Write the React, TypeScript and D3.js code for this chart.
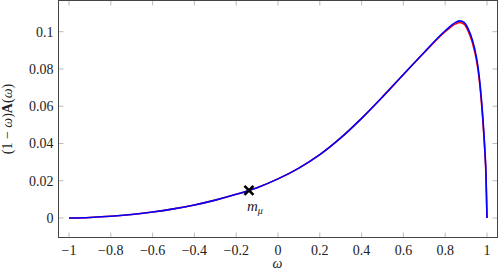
import React from 'react'
import * as d3 from 'd3'

// omega samples and (1-w)A(w) values
const omega = [-1, -0.9, -0.8, -0.7, -0.6, -0.5, -0.4, -0.3, -0.2, -0.1, 0, 0.1, 0.2, 0.3, 0.4, 0.5, 0.6, 0.7, 0.8, 0.85, 0.87, 0.89, 0.91, 0.93, 0.95, 0.96, 0.97, 0.98, 0.99, 0.995, 1]
const blueVals = [0, 0.0003, 0.0009, 0.0019, 0.0032, 0.0049, 0.007, 0.0096, 0.0127, 0.0163, 0.021, 0.0268, 0.034, 0.043, 0.0535, 0.065, 0.077, 0.089, 0.1005, 0.105, 0.1058, 0.105, 0.1015, 0.0955, 0.086, 0.0785, 0.068, 0.054, 0.036, 0.024, 0]
const redVals = [0, 0.0003, 0.0009, 0.0019, 0.0032, 0.0049, 0.007, 0.0096, 0.0127, 0.0163, 0.021, 0.0268, 0.034, 0.043, 0.0535, 0.065, 0.077, 0.0888, 0.1, 0.1042, 0.1049, 0.104, 0.1003, 0.0942, 0.0845, 0.077, 0.0665, 0.0525, 0.035, 0.0235, 0]

const xTicks = [-1, -0.8, -0.6, -0.4, -0.2, 0, 0.2, 0.4, 0.6, 0.8, 1]
const yTicks = [0, 0.02, 0.04, 0.06, 0.08, 0.1]

const marker = { w: -0.139, v: 0.0148 }

export default function App() {
  let left = 58.5, right = 497.5, top = 0.5, bottom = 237.5

  var x = d3.scaleLinear().domain([-1, 1]).range([69, 487])
  var y = d3.scaleLinear().domain([0, 0.1]).range([218, 31.7])

  const line = d3.line<number>()
    .x((d, i) => x(omega[i]))
    .y(d => y(d))
    .curve(d3.curveMonotoneX)

  const fmt = (t: number) => (t < 0 ? '\u2212' + Math.abs(t) : String(t))
  const font = "'Liberation Serif', 'Times New Roman', serif"

  const mx = x(marker.w), my = y(marker.v)

  return (
    <svg width={498} height={271} style={{ position: 'absolute', left: 0, top: 0, fontFamily: font }}>
      <rect x={0} y={0} width={498} height={271} fill="#fff" />
      {/* ticks, pgfplots style: inside on all four sides */}
      {xTicks.map(t => (
        <g key={'x' + t}>
          <line x1={x(t)} x2={x(t)} y1={bottom} y2={bottom - 5} stroke="#aaa" strokeWidth={0.8} />
          <line x1={x(t)} x2={x(t)} y1={top} y2={top + 5} stroke="#aaa" strokeWidth={0.8} />
          <text x={x(t)} y={bottom + 17} fontSize={14} textAnchor="middle" fill="#222" style={{ fontFamily: font }}>{fmt(t)}</text>
        </g>
      ))}
      {yTicks.map(t => (
        <g key={'y' + t}>
          <line x1={left} x2={left + 5} y1={y(t)} y2={y(t)} stroke="#aaa" strokeWidth={0.8} />
          <line x1={right} x2={right - 5} y1={y(t)} y2={y(t)} stroke="#aaa" strokeWidth={0.8} />
          <text x={left - 5} y={y(t) + 5} fontSize={14} textAnchor="end" fill="#222" style={{ fontFamily: font }}>{fmt(t)}</text>
        </g>
      ))}
      <path d={line(redVals) || ''} fill="none" stroke="#ff0000" strokeWidth={1.6} />
      <path d={line(blueVals) || ''} fill="none" stroke="#0000ff" strokeWidth={1.6} />
      {/* marker */}
      <g stroke="#000" strokeWidth={2.6}>
        <line x1={mx - 4.5} x2={mx + 4.5} y1={my - 4.5} y2={my + 4.5} />
        <line x1={mx - 4.5} x2={mx + 4.5} y1={my + 4.5} y2={my - 4.5} />
      </g>
      <text x={mx - 2} y={my + 21} fontSize={15} fontStyle="italic" fill="#222" style={{ fontFamily: font }}>
        m<tspan fontSize={10} dy={3}>μ</tspan>
      </text>
      <rect x={left} y={top} width={right - left} height={bottom - top} fill="none" stroke="#444" strokeWidth={1} />
      {/* axis labels */}
      <text x={(left + right) / 2 - 0.5} y={268} fontSize={14} fontStyle="italic" textAnchor="middle" fill="#222" style={{ fontFamily: font }}>ω</text>
      <text transform={`translate(12, ${(top + bottom) / 2}) rotate(-90)`} fontSize={14} textAnchor="middle" fill="#222" style={{ fontFamily: font }}>
        (1 − <tspan fontStyle="italic">ω</tspan>)<tspan fontWeight="bold">A</tspan>(<tspan fontStyle="italic">ω</tspan>)
      </text>
    </svg>
  )
}
